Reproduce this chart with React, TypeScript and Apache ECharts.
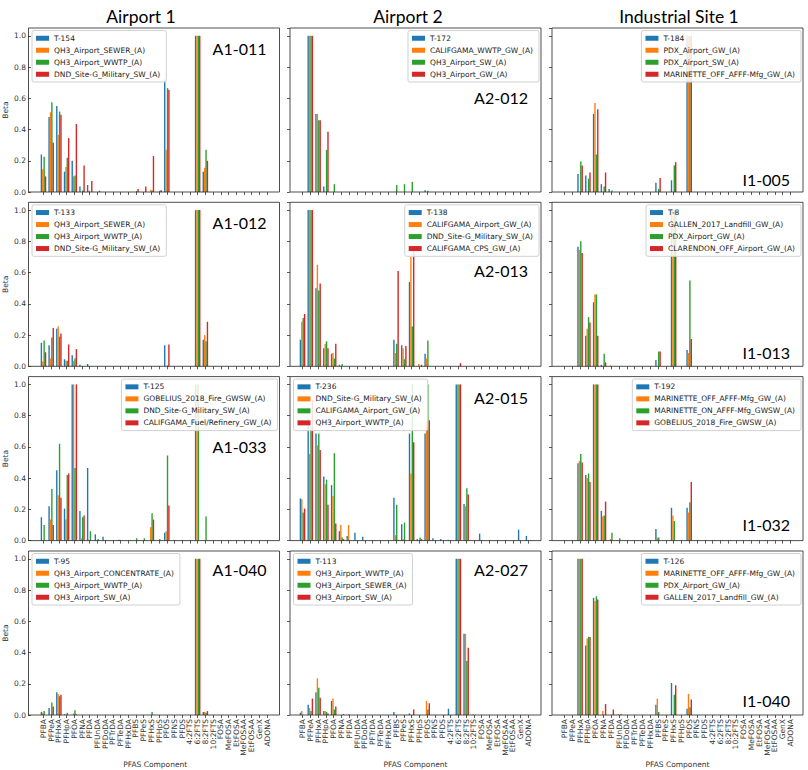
import React, { useEffect, useRef } from 'react';
import * as echarts from 'echarts';

const categories = ['PFBA','PFPeA','PFHxA','PFHpA','PFOA','PFNA','PFDA','PFUnDA','PFDoDA','PFTrDA','PFTeDA','PFHxDA','PFBS','PFPeS','PFHxS','PFHpS','PFOS','PFNS','PFDS','4:2FTS','6:2FTS','8:2FTS','10:2FTS','FOSA','MeFOSA','EtFOSA','MeFOSAA','EtFOSAA','GenX','ADONA'];

const columnTitles = ['Airport 1', 'Airport 2', 'Industrial Site 1'];
const yTicks = [0, 0.2, 0.4, 0.6, 0.8, 1.0];

// ---- Row 1 ----
const names_A1_011 = ['T-154', 'QH3_Airport_SEWER_(A)', 'QH3_Airport_WWTP_(A)', 'DND_Site-G_Military_SW_(A)'];
const A1_011_s1 = [0.24, 0.48, 0.55, 0.13, 0.2, 0.035, 0.045, 0, 0, 0, 0, 0, 0, 0, 0, 0, 0.72, 0, 0, 0, 1, 0.13, 0, 0, 0, 0, 0, 0, 0, 0];
const A1_011_s2 = [0.145, 0.51, 0.365, 0.16, 0.1, 0, 0.01, 0, 0, 0, 0, 0, 0, 0, 0.015, 0, 0.27, 0, 0, 0, 1, 0.155, 0, 0, 0, 0, 0, 0, 0, 0];
const A1_011_s3 = [0.225, 0.575, 0.515, 0.22, 0.105, 0.01, 0, 0, 0, 0, 0, 0, 0.005, 0, 0.01, 0.008, 0.665, 0, 0, 0, 1, 0.27, 0, 0, 0, 0, 0, 0, 0, 0];
const A1_011_s4 = [0.1, 0.315, 0.495, 0.345, 0.435, 0.17, 0.07, 0.008, 0, 0, 0, 0, 0.02, 0.035, 0.23, 0.012, 0.655, 0, 0, 0, 1, 0.2, 0, 0, 0, 0, 0, 0, 0, 0];

const names_A2_012 = ['T-172', 'CALIFGAMA_WWTP_GW_(A)', 'QH3_Airport_SW_(A)', 'QH3_Airport_GW_(A)'];
const A2_012_s1 = [0, 1, 0.5, 0.035, 0, 0, 0, 0, 0, 0, 0, 0, 0, 0, 0, 0, 0.012, 0, 0, 0, 0, 0, 0, 0, 0, 0, 0, 0, 0, 0];
const A2_012_s2 = [0, 1, 0.5, 0, 0, 0, 0, 0, 0, 0, 0, 0, 0, 0, 0, 0, 0, 0, 0, 0, 0, 0, 0, 0, 0, 0, 0, 0, 0, 0];
const A2_012_s3 = [0, 1, 0.46, 0.27, 0.05, 0, 0, 0, 0, 0, 0, 0, 0.045, 0.05, 0.065, 0, 0.008, 0, 0, 0, 0, 0, 0, 0, 0, 0, 0, 0, 0, 0];
const A2_012_s4 = [0, 1, 0.46, 0.385, 0, 0, 0, 0, 0, 0, 0, 0, 0, 0, 0, 0, 0, 0, 0, 0, 0, 0, 0, 0, 0, 0, 0, 0, 0, 0];

const names_I1_005 = ['T-184', 'PDX_Airport_GW_(A)', 'PDX_Airport_SW_(A)', 'MARINETTE_OFF_AFFF-Mfg_GW_(A)'];
const I1_005_s1 = [0, 0, 0.115, 0.105, 0.5, 0.05, 0.02, 0, 0, 0, 0, 0, 0.06, 0, 0.075, 0, 1, 0, 0, 0, 0, 0, 0, 0, 0, 0, 0, 0, 0, 0];
const I1_005_s2 = [0, 0, 0, 0, 0.57, 0, 0, 0, 0, 0, 0, 0, 0, 0, 0, 0, 1, 0, 0, 0, 0, 0, 0, 0, 0, 0, 0, 0, 0, 0];
const I1_005_s3 = [0, 0, 0.195, 0.085, 0.24, 0.035, 0.01, 0, 0, 0, 0, 0, 0.02, 0, 0.17, 0, 1, 0, 0, 0, 0, 0, 0, 0, 0, 0, 0, 0, 0, 0];
const I1_005_s4 = [0, 0, 0.17, 0.125, 0.53, 0.125, 0, 0, 0, 0, 0, 0, 0.09, 0, 0.19, 0, 1, 0, 0, 0, 0, 0, 0, 0, 0, 0, 0, 0, 0, 0];

// ---- Row 2 ----
const names_A1_012 = ['T-133', 'QH3_Airport_SEWER_(A)', 'QH3_Airport_WWTP_(A)', 'DND_Site-G_Military_SW_(A)'];
const A1_012_s1 = [0.15, 0.135, 0.24, 0.045, 0.07, 0.01, 0.015, 0, 0, 0, 0, 0, 0, 0, 0, 0, 0.135, 0, 0, 0, 1, 0.17, 0, 0, 0, 0, 0, 0, 0, 0];
const A1_012_s2 = [0.03, 0.05, 0.255, 0.035, 0.035, 0, 0, 0, 0, 0, 0, 0, 0, 0, 0, 0, 0, 0, 0, 0, 1, 0.2, 0, 0, 0, 0, 0, 0, 0, 0];
const A1_012_s3 = [0.165, 0.185, 0.19, 0.035, 0.05, 0, 0, 0, 0, 0, 0, 0, 0, 0, 0, 0, 0.005, 0, 0, 0, 1, 0.16, 0, 0, 0, 0, 0, 0, 0, 0];
const A1_012_s4 = [0.09, 0.245, 0.21, 0.14, 0.11, 0, 0, 0, 0, 0, 0, 0, 0, 0, 0, 0, 0.14, 0, 0, 0, 1, 0.285, 0, 0, 0, 0, 0, 0, 0, 0];

const names_A2_013 = ['T-138', 'CALIFGAMA_Airport_GW_(A)', 'DND_Site-G_Military_SW_(A)', 'CALIFGAMA_CPS_GW_(A)'];
const A2_013_s1 = [0.17, 1, 0.5, 0.115, 0.08, 0.01, 0, 0, 0, 0, 0, 0, 0.17, 0.135, 0.54, 0, 0.08, 0, 0, 0, 0, 0, 0, 0, 0, 0, 0, 0, 0, 0];
const A2_013_s2 = [0.285, 1, 0.65, 0.145, 0.085, 0, 0, 0, 0, 0, 0, 0, 0.085, 0.115, 0.7, 0.015, 0.05, 0, 0, 0, 0, 0, 0, 0, 0, 0, 0, 0, 0, 0];
const A2_013_s3 = [0.31, 1, 0.485, 0.16, 0.05, 0.015, 0, 0, 0, 0, 0, 0, 0.145, 0.045, 0.255, 0, 0.165, 0, 0, 0, 0, 0, 0, 0, 0, 0, 0, 0, 0, 0];
const A2_013_s4 = [0.335, 1, 0.53, 0.115, 0.145, 0, 0, 0, 0, 0, 0, 0, 0.61, 0.13, 0.74, 0.01, 0, 0, 0, 0, 0.02, 0, 0, 0, 0, 0, 0, 0, 0, 0];

const names_I1_013 = ['T-8', 'GALLEN_2017_Landfill_GW_(A)', 'PDX_Airport_GW_(A)', 'CLARENDON_OFF_Airport_GW_(A)'];
const I1_013_s1 = [0, 0, 0.765, 0.195, 0.41, 0.01, 0, 0, 0, 0, 0, 0, 0.04, 0, 1, 0, 0.105, 0, 0, 0, 0, 0, 0, 0, 0, 0, 0, 0, 0, 0];
const I1_013_s2 = [0, 0, 0.745, 0.24, 0.46, 0, 0.005, 0, 0, 0, 0, 0, 0, 0, 1, 0, 0.085, 0, 0, 0, 0, 0, 0, 0, 0, 0, 0, 0, 0, 0];
const I1_013_s3 = [0, 0, 0.8, 0.315, 0.46, 0.08, 0, 0, 0, 0, 0, 0, 0.095, 0, 1, 0, 0.55, 0, 0, 0, 0, 0, 0, 0, 0, 0, 0, 0, 0, 0];
const I1_013_s4 = [0, 0, 0.725, 0.28, 0.195, 0.025, 0, 0, 0, 0, 0, 0, 0.095, 0, 1, 0, 0.175, 0, 0, 0, 0, 0, 0, 0, 0, 0, 0, 0, 0, 0];

// ---- Row 3 ----
const names_A1_033 = ['T-125', 'GOBELIUS_2018_Fire_GWSW_(A)', 'DND_Site-G_Military_SW_(A)', 'CALIFGAMA_Fuel/Refinery_GW_(A)'];
const A1_033_s1 = [0.15, 0.22, 0.45, 0.205, 1, 0.19, 0.465, 0.04, 0.025, 0, 0.005, 0, 0, 0, 0, 0, 0.05, 0, 0, 0, 1, 0, 0, 0, 0, 0, 0, 0, 0, 0];
const A1_033_s2 = [0, 0.135, 0.29, 0.135, 1, 0.015, 0.005, 0, 0, 0, 0.005, 0, 0, 0, 0.085, 0, 0.06, 0, 0, 0, 1, 0, 0, 0, 0, 0, 0, 0, 0, 0];
const A1_033_s3 = [0.1, 0.33, 0.62, 0.42, 0.465, 0.15, 0.06, 0.01, 0, 0, 0, 0, 0.015, 0.015, 0.175, 0.01, 0.545, 0, 0, 0, 1, 0.155, 0, 0, 0, 0, 0, 0, 0, 0];
const A1_033_s4 = [0, 0.1, 0.275, 0.43, 1, 0.16, 0, 0, 0, 0, 0, 0, 0, 0, 0.135, 0, 0.225, 0, 0, 0, 0, 0, 0, 0, 0, 0, 0, 0, 0, 0];

const names_A2_015 = ['T-236', 'DND_Site-G_Military_SW_(A)', 'CALIFGAMA_Airport_GW_(A)', 'QH3_Airport_WWTP_(A)'];
const A2_015_s1 = [0.27, 0.78, 0.685, 0.41, 0.355, 0.06, 0.03, 0.05, 0.025, 0, 0, 0, 0.275, 0.105, 0.685, 0.01, 0.685, 0.015, 0.01, 0.005, 1, 0.235, 0, 0.045, 0, 0, 0, 0, 0.07, 0.03];
const A2_015_s2 = [0.265, 0.555, 0.61, 0.36, 0.285, 0.1, 0.1, 0, 0, 0, 0, 0, 0.035, 0.01, 0.43, 0, 0.76, 0, 0, 0, 1, 0.22, 0, 0, 0, 0, 0, 0, 0, 0];
const A2_015_s3 = [0.18, 0.73, 0.685, 0.39, 0.56, 0.02, 0, 0, 0, 0, 0, 0, 0.23, 0.115, 1, 0.02, 1, 0, 0, 0, 1, 0.335, 0, 0, 0, 0, 0, 0, 0, 0];
const A2_015_s4 = [0.205, 0.9, 0.58, 0.23, 0.11, 0.01, 0, 0, 0, 0, 0, 0, 0.005, 0, 0.63, 0.01, 0.77, 0, 0, 0, 1, 0.295, 0, 0, 0, 0, 0, 0, 0, 0];

const names_I1_032 = ['T-192', 'MARINETTE_OFF_AFFF-Mfg_GW_(A)', 'MARINETTE_ON_AFFF-Mfg_GWSW_(A)', 'GOBELIUS_2018_Fire_GWSW_(A)'];
const I1_032_s1 = [0, 0, 0.495, 0.42, 1, 0.19, 0, 0, 0, 0, 0, 0, 0.075, 0, 0.21, 0, 0.21, 0, 0, 0, 0, 0, 0, 0, 0, 0, 0, 0, 0, 0];
const I1_032_s2 = [0, 0, 0.51, 0.4, 1, 0.155, 0.01, 0, 0, 0, 0, 0, 0.02, 0, 0.16, 0, 0.18, 0, 0, 0, 0, 0, 0, 0, 0, 0, 0, 0, 0, 0];
const I1_032_s3 = [0, 0, 0.555, 0.43, 1, 0.16, 0.05, 0.015, 0, 0, 0, 0, 0.02, 0, 0.125, 0, 0.245, 0, 0, 0, 0, 0, 0, 0, 0, 0, 0, 0, 0, 0];
const I1_032_s4 = [0, 0, 0.5, 0.375, 1, 0.25, 0, 0, 0, 0, 0, 0, 0, 0, 0, 0, 0.375, 0, 0, 0, 0, 0, 0, 0, 0, 0, 0, 0, 0, 0];

// ---- Row 4 ----
const names_A1_040 = ['T-95', 'QH3_Airport_CONCENTRATE_(A)', 'QH3_Airport_WWTP_(A)', 'QH3_Airport_SW_(A)'];
const A1_040_s1 = [0.02, 0.045, 0.145, 0.005, 0, 0, 0, 0, 0, 0, 0, 0, 0, 0, 0, 0, 0, 0, 0, 0, 1, 0.02, 0, 0, 0, 0, 0, 0, 0, 0];
const A1_040_s2 = [0.015, 0, 0.135, 0, 0.01, 0, 0, 0, 0, 0, 0, 0, 0, 0, 0, 0, 0, 0, 0, 0, 1, 0.02, 0, 0, 0, 0, 0, 0, 0, 0];
const A1_040_s3 = [0.025, 0.08, 0.12, 0.015, 0.03, 0, 0, 0, 0, 0, 0, 0, 0, 0, 0.02, 0, 0, 0, 0, 0, 1, 0.015, 0, 0, 0, 0, 0, 0, 0, 0];
const A1_040_s4 = [0, 0.055, 0.13, 0, 0.005, 0, 0, 0, 0, 0, 0, 0, 0, 0, 0, 0, 0, 0, 0, 0, 1, 0.025, 0, 0, 0, 0, 0, 0, 0, 0];

const names_A2_027 = ['T-113', 'QH3_Airport_WWTP_(A)', 'QH3_Airport_SEWER_(A)', 'QH3_Airport_SW_(A)'];
const A2_027_s1 = [0.015, 0.065, 0.145, 0.025, 0.09, 0, 0, 0, 0, 0, 0, 0, 0.02, 0, 0.01, 0, 0, 0, 0, 0.04, 1, 0.52, 0, 0, 0, 0, 0, 0, 0, 0];
const A2_027_s2 = [0.025, 0.045, 0.235, 0.025, 0.105, 0, 0.005, 0, 0, 0, 0, 0, 0, 0, 0, 0, 0.09, 0, 0, 0, 1, 0.52, 0.005, 0, 0, 0, 0, 0, 0, 0];
const A2_027_s3 = [0, 0.025, 0.175, 0.02, 0.035, 0, 0, 0, 0, 0, 0, 0, 0, 0, 0, 0, 0.035, 0, 0, 0, 1, 0.345, 0, 0, 0, 0, 0, 0, 0, 0];
const A2_027_s4 = [0, 0.105, 0.11, 0.01, 0.055, 0.005, 0, 0, 0, 0, 0, 0, 0, 0, 0.035, 0, 0.075, 0, 0, 0, 1, 0.43, 0, 0, 0, 0, 0, 0, 0, 0];

const names_I1_040 = ['T-126', 'MARINETTE_OFF_AFFF-Mfg_GW_(A)', 'PDX_Airport_GW_(A)', 'GALLEN_2017_Landfill_GW_(A)'];
const I1_040_s1 = [0, 0, 1, 0.445, 0.75, 0, 0, 0, 0, 0, 0, 0, 0.065, 0, 0.205, 0, 0.04, 0, 0, 0, 0, 0, 0, 0, 0, 0, 0, 0, 0, 0];
const I1_040_s2 = [0, 0, 1, 0.49, 0.73, 0.025, 0, 0.005, 0, 0, 0, 0, 0.105, 0, 0, 0, 0.135, 0, 0, 0, 0, 0, 0, 0, 0, 0, 0, 0, 0, 0];
const I1_040_s3 = [0, 0, 1, 0.5, 0.76, 0, 0, 0, 0, 0, 0, 0, 0.02, 0, 0.13, 0, 0.05, 0, 0, 0, 0, 0, 0, 0, 0, 0, 0, 0, 0, 0];
const I1_040_s4 = [0, 0, 1, 0.5, 0.74, 0.07, 0.035, 0.005, 0, 0, 0, 0, 0, 0, 0.19, 0, 0.1, 0, 0, 0, 0, 0, 0, 0, 0, 0, 0, 0, 0, 0];

const seriesColors = ['#1f77b4', '#ff7f0e', '#2ca02c', '#d62728'];

// Layout (pixels)
const colLeft = [28.5, 290, 552];
const colTitleX = [141, 408, 679];
const rowTop = [28, 202.3, 376.6, 551];
const panelW = 251;
const panelH = 164;
const edgePad = 12.5;

type Panel = {
  id: string; row: number; col: number; names: string[]; data: number[][];
  legendSide: 'left' | 'right'; labelDy: number;
};

const panels: Panel[] = [
  { id: 'A1-011', row: 0, col: 0, names: names_A1_011, data: [A1_011_s1, A1_011_s2, A1_011_s3, A1_011_s4], legendSide: 'left', labelDy: 20 },
  { id: 'A2-012', row: 0, col: 1, names: names_A2_012, data: [A2_012_s1, A2_012_s2, A2_012_s3, A2_012_s4], legendSide: 'right', labelDy: 69 },
  { id: 'I1-005', row: 0, col: 2, names: names_I1_005, data: [I1_005_s1, I1_005_s2, I1_005_s3, I1_005_s4], legendSide: 'right', labelDy: 151 },
  { id: 'A1-012', row: 1, col: 0, names: names_A1_012, data: [A1_012_s1, A1_012_s2, A1_012_s3, A1_012_s4], legendSide: 'left', labelDy: 20 },
  { id: 'A2-013', row: 1, col: 1, names: names_A2_013, data: [A2_013_s1, A2_013_s2, A2_013_s3, A2_013_s4], legendSide: 'right', labelDy: 68 },
  { id: 'I1-013', row: 1, col: 2, names: names_I1_013, data: [I1_013_s1, I1_013_s2, I1_013_s3, I1_013_s4], legendSide: 'right', labelDy: 150 },
  { id: 'A1-033', row: 2, col: 0, names: names_A1_033, data: [A1_033_s1, A1_033_s2, A1_033_s3, A1_033_s4], legendSide: 'right', labelDy: 69.5 },
  { id: 'A2-015', row: 2, col: 1, names: names_A2_015, data: [A2_015_s1, A2_015_s2, A2_015_s3, A2_015_s4], legendSide: 'left', labelDy: 21 },
  { id: 'I1-032', row: 2, col: 2, names: names_I1_032, data: [I1_032_s1, I1_032_s2, I1_032_s3, I1_032_s4], legendSide: 'right', labelDy: 148 },
  { id: 'A1-040', row: 3, col: 0, names: names_A1_040, data: [A1_040_s1, A1_040_s2, A1_040_s3, A1_040_s4], legendSide: 'left', labelDy: 18 },
  { id: 'A2-027', row: 3, col: 1, names: names_A2_027, data: [A2_027_s1, A2_027_s2, A2_027_s3, A2_027_s4], legendSide: 'left', labelDy: 18 },
  { id: 'I1-040', row: 3, col: 2, names: names_I1_040, data: [I1_040_s1, I1_040_s2, I1_040_s3, I1_040_s4], legendSide: 'right', labelDy: 149 },
];

const TICK_FONT = 'DejaVu Sans';
const TITLE_FONT = 'Lato';
const CW = 808;

function buildOption() {
  const nCat = categories.length;
  const step = (panelW - 2 * edgePad) / (nCat - 1);
  const gridOffset = edgePad - step / 2;

  const grid: any[] = [];
  const xAxis: any[] = [];
  const yAxis: any[] = [];
  const series: any[] = [];
  const legend: any[] = [];
  const graphic: any[] = [];

  panels.forEach((p, i) => {
    const L = colLeft[p.col];
    const T = rowTop[p.row];
    grid.push({ left: L + gridOffset, top: T, width: step * nCat, height: panelH, containLabel: false });
    const bottomRow = p.row === 3;
    xAxis.push({
      gridIndex: i, type: 'category', data: categories,
      axisLine: { show: false },
      axisTick: { show: true, alignWithLabel: true, interval: 0, length: 3, lineStyle: { color: '#333', width: 0.8 } },
      axisLabel: { show: bottomRow, interval: 0, rotate: 90, fontSize: 7.5, margin: 4, color: '#333', fontFamily: TICK_FONT },
      splitLine: { show: false },
      name: bottomRow ? 'PFAS Component' : '',
      nameLocation: 'middle', nameGap: 45,
      nameTextStyle: { fontSize: 7.5, color: '#333', fontFamily: TICK_FONT },
    });
    yAxis.push({
      gridIndex: i, type: 'value', min: 0, max: 1.05, interval: 0.2,
      offset: gridOffset,
      axisLine: { show: false },
      axisTick: { show: true, length: 3, lineStyle: { color: '#333', width: 0.8 } },
      axisLabel: {
        show: p.col === 0, fontSize: 7.5, color: '#333', margin: 5, fontFamily: TICK_FONT,
        showMaxLabel: false,
        formatter: (v: number) => (yTicks.some((t) => Math.abs(t - v) < 1e-6) ? v.toFixed(1) : ''),
      },
      splitLine: { show: false },
      name: p.col === 0 ? 'Beta' : '',
      nameLocation: 'middle', nameGap: 22,
      nameTextStyle: { fontSize: 7.5, color: '#333', fontFamily: TICK_FONT },
    });
    const fullNames = p.names.map((n) => `${p.id}|${n}`);
    p.data.forEach((vals, s) => {
      series.push({
        type: 'bar', name: fullNames[s], xAxisIndex: i, yAxisIndex: i, data: vals,
        itemStyle: { color: seriesColors[s] },
        barGap: '0%', barCategoryGap: '28%', silent: true,
      });
    });
    const leg: any = {
      orient: 'vertical', top: T + 2.5,
      data: fullNames,
      formatter: (n: string) => n.split('|')[1],
      icon: 'rect', itemWidth: 13, itemHeight: 5, itemGap: 2.5,
      padding: [3, 6, 3, 4],
      borderColor: '#d0d0d0', borderWidth: 1, borderRadius: 2,
      backgroundColor: 'rgba(255,255,255,0.85)',
      selectedMode: false,
      textStyle: { fontFamily: TICK_FONT, fontSize: 7.5, color: '#222', lineHeight: 9.5 },
    };
    if (p.legendSide === 'left') leg.left = L + 3.5;
    else leg.right = CW - (L + panelW) + 2;
    legend.push(leg);

    graphic.push({
      type: 'rect', silent: true, z: 50,
      shape: { x: L, y: T, width: panelW, height: panelH },
      style: { fill: 'none', stroke: '#222', lineWidth: 0.8 },
    });
    graphic.push({
      type: 'text', silent: true, z: 50,
      x: L + panelW - 13, y: T + p.labelDy,
      style: { text: p.id, fontFamily: TITLE_FONT, fontSize: 16, fill: '#000', align: 'right', verticalAlign: 'middle' },
    });
  });

  columnTitles.forEach((t, c) => {
    graphic.push({
      type: 'text', silent: true, z: 50,
      x: colTitleX[c], y: 16,
      style: { text: t, fontFamily: TITLE_FONT, fontSize: 17.5, fill: '#000', align: 'center', verticalAlign: 'middle' },
    });
  });

  return {
    animation: false,
    backgroundColor: '#ffffff',
    grid, xAxis, yAxis, series, legend, graphic,
  };
}

export default function App() {
  const ref = useRef<HTMLDivElement>(null);
  useEffect(() => {
    if (!ref.current) return;
    const chart = echarts.init(ref.current, undefined, { renderer: 'svg' });
    chart.setOption(buildOption() as any);
    return () => chart.dispose();
  }, []);
  return <div ref={ref} style={{ position: 'fixed', left: 0, top: 0, width: 808, height: 770 }} />;
}
